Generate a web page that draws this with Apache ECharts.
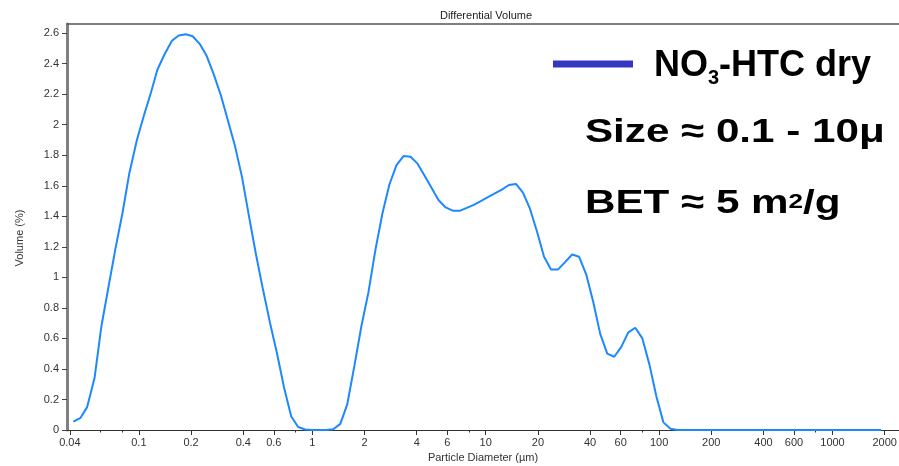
<!DOCTYPE html>
<html>
<head>
<meta charset="utf-8">
<script src="https://cdn.jsdelivr.net/npm/echarts@6/dist/echarts.min.js"></script>
<style>
  html, body { margin: 0; padding: 0; background: #fff; }
  #chart { width: 899px; height: 466px; }
</style>
</head>
<body>
<div id="chart"></div>
<script>
// Channel mid-point diameters (µm) of the laser-diffraction size bins
const diameters = [
  0.0419, 0.0461, 0.0503, 0.0555, 0.0608, 0.0671, 0.0733, 0.0807, 0.0880, 0.0974,
  0.1069, 0.1173, 0.1278, 0.1404, 0.1551, 0.1697, 0.1865, 0.2043, 0.2242, 0.2462,
  0.2703, 0.2975, 0.3258, 0.3583, 0.3929, 0.4316, 0.4736, 0.5197, 0.5710, 0.6265,
  0.6883, 0.7554, 0.8287, 0.9094, 0.9985, 1.097, 1.204, 1.321, 1.451, 1.592,
  1.749, 1.919, 2.106, 2.312, 2.539, 2.787, 3.059, 3.358, 3.687, 4.046,
  4.443, 4.878, 5.355, 5.879, 6.452, 7.083, 7.775, 8.537, 9.371, 10.29,
  11.29, 12.39, 13.61, 14.94, 16.40, 18.00, 19.76, 21.70, 23.81, 26.14,
  28.70, 31.50, 34.58, 37.97, 41.68, 45.75, 50.23, 55.13, 60.53, 66.43,
  72.93, 80.07, 87.90, 96.49, 105.9, 116.3, 127.6, 140.1, 153.8, 168.9,
  185.3, 203.5, 223.4, 245.3, 269.2, 295.6, 324.4, 356.1, 390.9, 429.1,
  471.1, 517.2, 567.8, 623.3, 684.2, 751.1, 824.4, 905.1, 993.4, 1091,
  1198, 1315, 1443, 1585, 1740, 1909
];

// Differential volume (%) per channel
const volumes = [
  0.055, 0.08, 0.15, 0.34, 0.68, 0.95, 1.19, 1.43, 1.68, 1.90,
  2.06, 2.21, 2.36, 2.46, 2.55, 2.585, 2.593, 2.58, 2.53, 2.45,
  2.33, 2.19, 2.03, 1.86, 1.66, 1.40, 1.15, 0.92, 0.70, 0.50,
  0.275, 0.09, 0.02, 0.003, 0, 0, 0, 0.005, 0.04, 0.17,
  0.42, 0.68, 0.90, 1.18, 1.42, 1.61, 1.735, 1.795, 1.79, 1.745,
  1.665, 1.585, 1.505, 1.458, 1.437, 1.436, 1.455, 1.475, 1.50, 1.525,
  1.55, 1.575, 1.605, 1.612, 1.555, 1.45, 1.30, 1.135, 1.052, 1.052,
  1.10, 1.15, 1.135, 1.02, 0.84, 0.63, 0.50, 0.48, 0.545, 0.64,
  0.67, 0.60, 0.43, 0.22, 0.05, 0.008, 0, 0, 0, 0,
  0, 0, 0, 0, 0, 0, 0, 0, 0, 0,
  0, 0, 0, 0, 0, 0, 0, 0, 0, 0,
  0, 0, 0, 0, 0, 0
];

// Axis tick labels
const xMajorTicks = [0.04, 0.1, 0.2, 0.4, 0.6, 1, 2, 4, 6, 10, 20, 40, 60, 100, 200, 400, 600, 1000, 2000];
const xMinorTicks = [0.06, 0.08, 0.8, 8, 80, 800];
const yTicks = [0, 0.2, 0.4, 0.6, 0.8, 1, 1.2, 1.4, 1.6, 1.8, 2, 2.2, 2.4, 2.6];

const seriesName = 'NO3-HTC dry';
const FONT = '"Liberation Sans", Arial, Helvetica, sans-serif';
const X_MIN = 0.0385, X_MAX = 2418;

const chart = echarts.init(document.getElementById('chart'), null, { renderer: 'canvas' });

const gridBox = { left: 67, right: 0, top: 24, bottom: 36, containLabel: false, outerBoundsMode: 'none' };

const option = {
  animation: false,
  backgroundColor: '#fff',
  title: {
    text: 'Differential Volume',
    left: 481, top: 5, textAlign: 'center',
    textStyle: { fontFamily: FONT, fontSize: 11, fontWeight: 'normal', color: '#222' }
  },
  legend: {
    data: [{ name: seriesName, icon: 'rect', itemStyle: { color: '#3636C6' } }],
    left: 553, top: 48, padding: 0,
    itemWidth: 80, itemHeight: 7,
    selectedMode: false,
    formatter: () => '{p|NO}{s|3}{a|-HTC dry}',
    textStyle: {
      fontFamily: FONT, fontWeight: 'bold', fontSize: 36, color: '#000',
      rich: {
        p: { fontFamily: FONT, fontWeight: 'bold', fontSize: 36, color: '#000', padding: [4, 0, 0, 16] },
        a: { fontFamily: FONT, fontWeight: 'bold', fontSize: 36, color: '#000', padding: [4, 0, 0, 0] },
        s: { fontFamily: FONT, fontWeight: 'bold', fontSize: 20, color: '#000', padding: [29, 0, 0, 0] }
      }
    }
  },
  grid: [Object.assign({}, gridBox), Object.assign({}, gridBox)],
  xAxis: [
    {
      type: 'log', logBase: 10, gridIndex: 0, position: 'bottom',
      min: X_MIN, max: X_MAX,
      name: 'Particle Diameter (\u00b5m)', nameLocation: 'middle', nameGap: 21,
      nameTextStyle: { fontFamily: FONT, fontSize: 11, color: '#333' },
      axisLine: { show: true, lineStyle: { color: '#333', width: 1 } },
      axisTick: { show: true, customValues: xMajorTicks, length: 5, lineStyle: { color: '#333', width: 1 } },
      axisLabel: {
        show: true, customValues: xMajorTicks, margin: 7,
        fontFamily: FONT, fontSize: 11, color: '#333',
        formatter: (v) => String(+v.toPrecision(6))
      },
      splitLine: { show: false }, minorTick: { show: false }
    },
    {
      type: 'log', logBase: 10, gridIndex: 0, position: 'top',
      min: X_MIN, max: X_MAX,
      axisLine: { show: true, lineStyle: { color: '#555', width: 1.5 } },
      axisTick: { show: false }, axisLabel: { show: false }, splitLine: { show: false }
    },
    {
      type: 'log', logBase: 10, gridIndex: 1, position: 'bottom',
      min: X_MIN, max: X_MAX,
      axisLine: { show: false },
      axisTick: { show: true, customValues: xMinorTicks, length: 2.5, lineStyle: { color: '#333', width: 1 } },
      axisLabel: { show: false }, splitLine: { show: false }
    }
  ],
  yAxis: [
    {
      type: 'value', gridIndex: 0, min: 0, max: 2.66,
      name: 'Volume (%)', nameLocation: 'middle', nameGap: 42,
      nameTextStyle: { fontFamily: FONT, fontSize: 11, color: '#333', padding: [0, 22, 0, 0] },
      axisLine: { show: true, lineStyle: { color: '#808080', width: 3 } },
      axisTick: { show: true, customValues: yTicks, length: 5, lineStyle: { color: '#444', width: 1 } },
      axisLabel: {
        show: true, customValues: yTicks, margin: 8,
        fontFamily: FONT, fontSize: 11, color: '#333',
        formatter: (v) => String(+v.toFixed(1))
      },
      splitLine: { show: false }
    },
    {
      type: 'value', gridIndex: 1, min: 0, max: 2.66, show: false
    }
  ],
  graphic: [
    {
      type: 'text', x: 585, y: 133, scaleX: 1.24,
      style: {
        text: 'Size \u2248 0.1 - 10\u03bc',
        fontFamily: FONT, fontWeight: 'bold', fontSize: 34, fill: '#000',
        align: 'left', verticalAlign: 'middle'
      }
    },
    {
      type: 'text', x: 585, y: 204, scaleX: 1.24,
      style: {
        text: '{a|BET \u2248 5 m}{s|2}{a|/g}',
        fontFamily: FONT, fontWeight: 'bold', fontSize: 34, fill: '#000',
        align: 'left', verticalAlign: 'middle',
        rich: {
          a: { fontFamily: FONT, fontWeight: 'bold', fontSize: 34, fill: '#000' },
          s: { fontFamily: FONT, fontWeight: 'bold', fontSize: 21, fill: '#000', padding: [0, 0, 4, 0] }
        }
      }
    }
  ],
  series: [
    {
      name: seriesName,
      type: 'line',
      xAxisIndex: 0, yAxisIndex: 0,
      data: diameters.map((d, i) => [d, volumes[i]]),
      showSymbol: false, symbol: 'none', smooth: false,
      lineStyle: { color: '#1E88FF', width: 2 },
      itemStyle: { color: '#1E88FF' }
    }
  ]
};

chart.setOption(option);
</script>
</body>
</html>
